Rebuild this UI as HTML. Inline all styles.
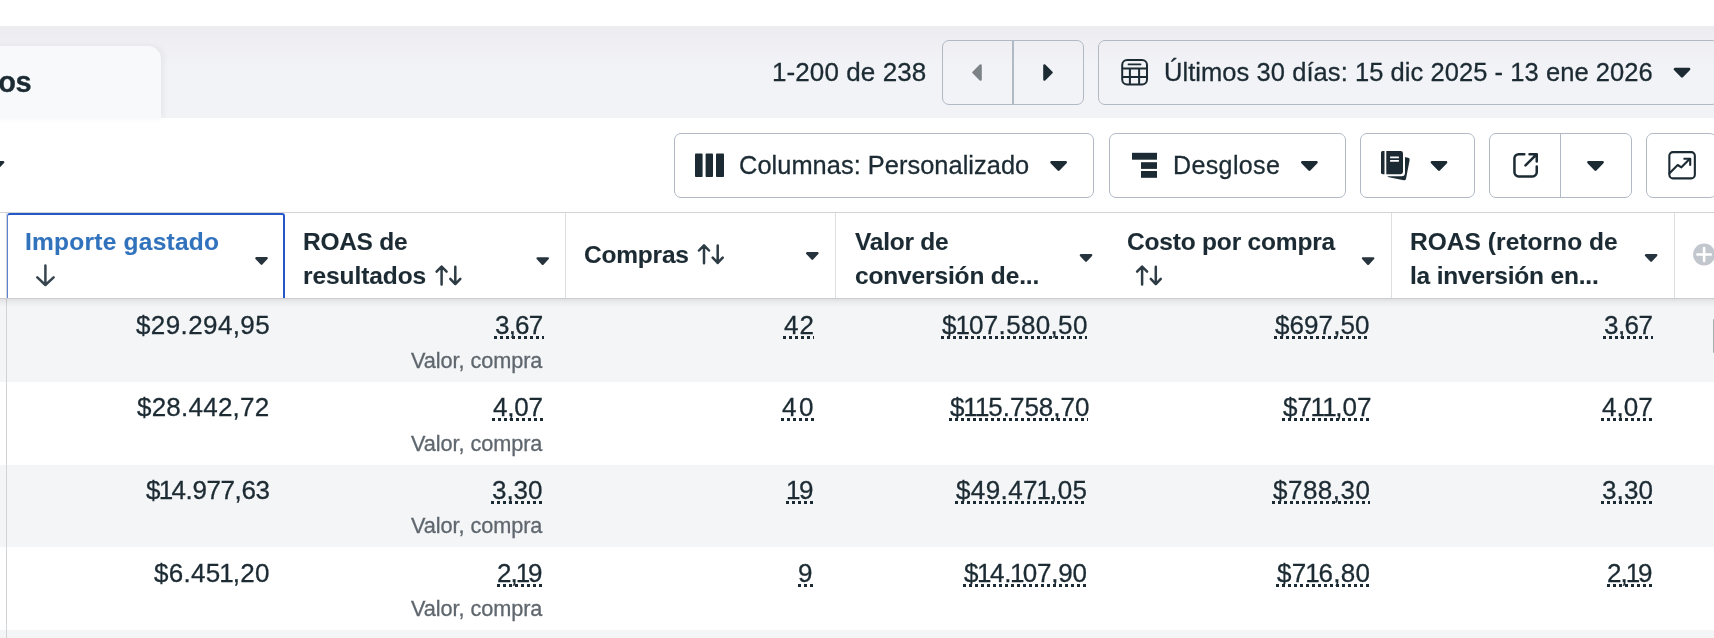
<!DOCTYPE html>
<html><head><meta charset="utf-8">
<style>
*{margin:0;padding:0;box-sizing:border-box}
html,body{width:1714px;height:638px;overflow:hidden;background:#fff}
body{position:relative;font-family:"Liberation Sans",sans-serif;color:#1c2b33}
.a{position:absolute;white-space:nowrap;line-height:1;will-change:transform;-webkit-text-stroke:0.3px currentColor}
.hd{-webkit-text-stroke:0.1px currentColor}
.band{position:absolute;left:0;top:26px;width:1714px;height:92px;background:linear-gradient(180deg,#edecf1 0%,#f0f0f4 25%,#f2f3f6 45%,#f2f3f6 100%)}
.tab{position:absolute;left:-20px;top:46px;width:181px;height:72px;background:#f8f9fb;border-top-right-radius:13px;box-shadow:3px 0 6px rgba(0,0,0,0.05)}
.btn{position:absolute;border:1px solid #b0b9c4;border-radius:7px}
.t26{font-size:26px}
.hd{font-size:24.5px;font-weight:700;margin-top:1px}
.val{font-size:26px}
.ul{position:absolute;height:3px;background:repeating-linear-gradient(90deg,#1c2b33 0 3px,transparent 3px 6px)}
.c1{letter-spacing:0.5px}
.sub{font-size:21.7px;color:#5f676e;margin-top:0.6px}
.row{position:absolute;left:0;width:1714px}
.g{background:#f4f5f7}
svg{position:absolute;overflow:visible}
</style></head><body>
<!-- top band -->
<div class="band"></div>
<div class="tab"></div>
<div class="a" style="right:1683px;top:67.5px;font-size:29px;font-weight:700;letter-spacing:-0.5px">cios</div>

<div class="a t26" style="left:772.1px;top:59.2px;letter-spacing:0.09px">1-200 de 238</div>

<!-- pagination -->
<div class="btn" style="left:942px;top:40px;width:142px;height:65px;"></div>
<div style="position:absolute;left:1011.5px;top:40px;width:2px;height:65px;background:#b0b9c4"></div>
<svg style="left:0;top:0" width="1714" height="638">
  <path d="M980.6 65.4 V79.6 L973.4 72.5Z" fill="#7c8287" stroke="#7c8287" stroke-width="2.4" stroke-linejoin="round"/>
  <path d="M1044.4 65.4 V79.6 L1051.6 72.5Z" fill="#1c2b33" stroke="#1c2b33" stroke-width="2.4" stroke-linejoin="round"/>
</svg>

<!-- date button -->
<div class="btn" style="left:1098px;top:40px;width:621px;height:65px;"></div>
<svg style="left:0;top:0" width="1714" height="638" fill="none" stroke="#1c2b33" stroke-width="2">
  <rect x="1122.2" y="60" width="24.8" height="24.6" rx="5"/>
  <path d="M1128.5 64.3 H1140.5" stroke-width="1.8" stroke-linecap="round"/>
  <path d="M1122.2 68.6 H1147 M1122.2 77.1 H1147 M1129.9 68.6 V84.6 M1139.1 68.6 V84.6"/>
</svg>
<div class="a" style="left:1163.6px;top:59.8px;font-size:25.5px;letter-spacing:0.06px">Últimos 30 días: 15 dic 2025 - 13 ene 2026</div>
<svg style="left:0;top:0" width="1714" height="638"></svg>

<!-- toolbar small caret at left edge -->
<svg style="left:0;top:0" width="1714" height="638"></svg>

<!-- Columnas -->
<div class="btn" style="left:674px;top:133px;width:420px;height:65px;"></div>
<svg style="left:0;top:0" width="1714" height="638" fill="#1c2b33">
  <rect x="695" y="153.6" width="7.6" height="23.4" rx="0.8"/>
  <rect x="705.6" y="153.6" width="7.4" height="23.4" rx="0.8"/>
  <rect x="716" y="153.6" width="8" height="23.4" rx="0.8"/>
</svg>
<div class="a" style="left:738.6px;top:152.5px;font-size:25.4px;letter-spacing:0.04px">Columnas: Personalizado</div>
<svg style="left:0;top:0" width="1714" height="638"></svg>

<!-- Desglose -->
<div class="btn" style="left:1109px;top:133px;width:237px;height:65px;"></div>
<svg style="left:0;top:0" width="1714" height="638" fill="#1c2b33">
  <rect x="1132" y="152.8" width="25" height="6.9"/>
  <rect x="1141" y="162.2" width="16" height="6.7"/>
  <rect x="1141" y="171" width="16" height="6.8"/>
</svg>
<div class="a" style="left:1173.4px;top:152.8px;font-size:25px;letter-spacing:0.38px">Desglose</div>
<svg style="left:0;top:0" width="1714" height="638"></svg>

<!-- reports -->
<div class="btn" style="left:1360px;top:133px;width:115px;height:65px;"></div>
<svg style="left:0;top:0" width="1714" height="638">
  <g transform="translate(1398.5 167.5) rotate(11)"><rect x="-9.5" y="-11.5" width="19" height="23" rx="2" fill="#1c2b33"/></g>
  <rect x="1379.2" y="149" width="25.8" height="27.2" rx="3.5" fill="#fff"/>
  <path d="M1384.5 151 H1382.6 Q1381 151 1381 152.6 V172.6 Q1381 174.2 1382.6 174.2 H1384.5Z" fill="#1c2b33"/>
  <path d="M1386.3 151 H1400.6 Q1403 151 1403 153.4 V171.8 Q1403 174.2 1400.6 174.2 H1386.3Z" fill="#1c2b33"/>
  
  
  <path d="M1390.1 157.3 H1398.9 M1390.1 160.9 H1398.9" stroke="#fff" stroke-width="1.8"/>
</svg>
<svg style="left:0;top:0" width="1714" height="638"></svg>

<!-- export -->
<div class="btn" style="left:1489px;top:133px;width:143px;height:65px;"></div>
<div style="position:absolute;left:1560px;top:133px;width:1px;height:65px;background:#b0b9c4"></div>
<svg style="left:0;top:0" width="1714" height="638" fill="none" stroke="#1c2b33" stroke-width="2.5" stroke-linecap="round" stroke-linejoin="round">
  <path d="M1524.3 154.15 H1518.7 A4.2 4.2 0 0 0 1514.45 158.4 V172.2 A4.2 4.2 0 0 0 1518.7 176.45 H1532.5 A4.2 4.2 0 0 0 1536.75 172.2 V166.5"/>
  <path d="M1529.5 154.15 H1536.75 V161.5 M1536.3 154.6 L1525.5 165.4"/>
</svg>
<svg style="left:0;top:0" width="1714" height="638"></svg>

<!-- chart -->
<div class="btn" style="left:1646px;top:133px;width:71px;height:65px;"></div>
<svg style="left:0;top:0" width="1714" height="638" fill="none" stroke="#1c2b33" stroke-width="2.1" stroke-linecap="round" stroke-linejoin="round">
  <rect x="1669.35" y="152.15" width="25.5" height="26.2" rx="3.6"/>
  <path d="M1669.5 173.2 L1677.7 165 L1681.4 167.3 L1689.6 159.1"/>
  <path d="M1684.3 158.7 H1690.2 V165"/>
</svg>

<!-- table header -->
<div style="position:absolute;left:0;top:212px;width:1714px;height:1px;background:#d3d3d5"></div>
<div style="position:absolute;z-index:5;left:0;top:298px;width:1714px;height:1px;background:#cdcdcf"></div>
<div style="position:absolute;z-index:5;left:0;top:299px;width:1714px;height:8px;background:linear-gradient(180deg,rgba(0,0,0,0.085),rgba(0,0,0,0.04) 40%,rgba(0,0,0,0))"></div>
<!-- column dividers -->
<div style="position:absolute;left:6px;top:213px;width:1px;height:425px;background:#d2d3d5"></div>
<div style="position:absolute;left:565px;top:213px;width:1px;height:85px;background:#dcdee1"></div>
<div style="position:absolute;left:835px;top:213px;width:1px;height:85px;background:#dcdee1"></div>
<div style="position:absolute;left:1391px;top:213px;width:1px;height:85px;background:#dcdee1"></div>
<div style="position:absolute;left:1674px;top:213px;width:1px;height:85px;background:#dcdee1"></div>
<!-- selected header -->
<div style="position:absolute;left:7px;top:213px;width:278px;height:85px;border:2px solid #2457c8;border-left:1px solid #5c84d6;border-bottom:none;border-radius:3px 3px 0 0;background:#fff"></div>

<div class="a hd" style="left:24.9px;top:229.3px;color:#3172bd;letter-spacing:0.24px">Importe gastado</div>
<svg style="left:0;top:0" width="1714" height="638" fill="none" stroke="#2d3b45" stroke-width="2.2" stroke-linecap="round" stroke-linejoin="round">
  <path d="M45.4 265.6 V284.5 M37.3 277.4 L45.4 285 L53.6 277.4" stroke-width="2.5" stroke="#36454f"/>
</svg>

<div class="a hd" style="left:303.4px;top:229.3px;letter-spacing:-0.28px">ROAS de</div>
<div class="a hd" style="left:303.4px;top:262.7px;letter-spacing:-0.08px">resultados</div>
<div class="a hd" style="left:583.7px;top:242.1px;letter-spacing:-0.21px">Compras</div>
<div class="a hd" style="left:855px;top:229.3px;letter-spacing:-0.24px">Valor de</div>
<div class="a hd" style="left:855px;top:262.7px;letter-spacing:-0.15px">conversión de...</div>
<div class="a hd" style="left:1126.8px;top:229.3px;letter-spacing:-0.19px">Costo por compra</div>
<div class="a hd" style="left:1410.4px;top:229.3px;letter-spacing:0.05px">ROAS (retorno de</div>
<div class="a hd" style="left:1410.4px;top:262.7px;letter-spacing:-0.19px">la inversión en...</div>

<svg style="left:0;top:0" width="1714" height="638" fill="none" stroke="#2d3b45" stroke-width="2.5" stroke-linecap="round" stroke-linejoin="round">
  <g id="ar" transform="translate(434 264.5)"><path d="M7.6 2.2 V20 M2.6 7.2 L7.6 2 L12.6 7.2 M21.3 2.3 V19.6 M16.3 14.4 L21.3 19.6 L26.3 14.4"/></g>
  <g transform="translate(696.4 243.3)"><path d="M7.6 2.2 V20 M2.6 7.2 L7.6 2 L12.6 7.2 M21.3 2.3 V19.6 M16.3 14.4 L21.3 19.6 L26.3 14.4"/></g>
  <g transform="translate(1134.5 264.5)"><path d="M7.6 2.2 V20 M2.6 7.2 L7.6 2 L12.6 7.2 M21.3 2.3 V19.6 M16.3 14.4 L21.3 19.6 L26.3 14.4"/></g>
</svg>
<!-- header carets -->
<svg style="left:0;top:0" width="1714" height="638" fill="#25333d">
  
  
  
  
  
  
</svg>
<!-- plus circle -->
<svg style="left:0;top:0" width="1714" height="638">
  <circle cx="1704.1" cy="254.5" r="11" fill="#c2c7ce"/>
  <path d="M1704.1 248 V261 M1697.4 254.5 H1710.8" stroke="#fff" stroke-width="2.6" stroke-linecap="round"/>
</svg>

<!-- rows -->
<div class="row g" style="top:299px;height:82.7px"></div>
<div class="row g" style="top:464.5px;height:82.8px"></div>
<div class="row g" style="top:630px;height:10px"></div>
<div style="position:absolute;left:6px;top:299px;width:1px;height:339px;background:#d2d3d5"></div>
<div style="position:absolute;left:1712.7px;top:318.7px;width:2px;height:34px;background:#a9abad;border-radius:1px"></div>

<!--ROWS-->
<div class="a val" style="left:135.9px;top:311.5px;letter-spacing:0.393px">$29.294,95</div>
<div class="a val u" style="left:495.3px;top:311.5px;letter-spacing:-0.815px">3,67</div>
<div class="ul" style="left:494.3px;width:49.7px;top:335.6px"></div>
<div class="a val u" style="left:783.8px;top:311.5px;letter-spacing:0.94px">42</div>
<div class="ul" style="left:782.8px;width:31.4px;top:335.6px"></div>
<div class="a val u" style="left:941.5px;top:311.5px"><span style="letter-spacing:-0.97px">$</span><span style="letter-spacing:-0.97px">1</span><span style="letter-spacing:0.33px">0</span><span style="letter-spacing:0.33px">7</span><span style="letter-spacing:0.33px">.</span><span style="letter-spacing:0.33px">5</span><span style="letter-spacing:0.33px">8</span><span style="letter-spacing:0.33px">0</span><span style="letter-spacing:0.33px">,</span><span style="letter-spacing:0.33px">5</span><span style="letter-spacing:0.33px">0</span></div>
<div class="ul" style="left:940.5px;width:146.8px;top:335.6px"></div>
<div class="a val u" style="left:1274.6px;top:311.5px;letter-spacing:0.079px">$697,50</div>
<div class="ul" style="left:1273.6px;width:96.0px;top:335.6px"></div>
<div class="a val u" style="left:1603.6px;top:311.5px;letter-spacing:-0.581px">3,67</div>
<div class="ul" style="left:1602.6px;width:50.4px;top:335.6px"></div>
<div class="a sub" style="left:411px;letter-spacing:-0.07px;top:349.3px">Valor, compra</div>
<div class="a val" style="left:137.4px;top:394.3px;letter-spacing:0.226px">$28.442,72</div>
<div class="a val u" style="left:493.3px;top:394.3px;letter-spacing:-0.181px">4,07</div>
<div class="ul" style="left:492.3px;width:51.6px;top:418.4px"></div>
<div class="a val u" style="left:782.2px;top:394.3px;letter-spacing:2.64px">40</div>
<div class="ul" style="left:781.2px;width:33.1px;top:418.4px"></div>
<div class="a val u" style="left:949.7px;top:394.3px"><span style="letter-spacing:-1.30px">$</span><span style="letter-spacing:-2.60px">1</span><span style="letter-spacing:-1.30px">1</span><span style="letter-spacing:0.00px">5</span><span style="letter-spacing:0.00px">.</span><span style="letter-spacing:0.00px">7</span><span style="letter-spacing:0.00px">5</span><span style="letter-spacing:0.00px">8</span><span style="letter-spacing:0.00px">,</span><span style="letter-spacing:0.00px">7</span><span style="letter-spacing:0.00px">0</span></div>
<div class="ul" style="left:948.7px;width:139.0px;top:418.4px"></div>
<div class="a val u" style="left:1283.1px;top:394.3px"><span style="letter-spacing:-0.08px">$</span><span style="letter-spacing:-1.38px">7</span><span style="letter-spacing:-2.68px">1</span><span style="letter-spacing:-1.38px">1</span><span style="letter-spacing:-0.08px">,</span><span style="letter-spacing:-0.08px">0</span><span style="letter-spacing:-0.08px">7</span></div>
<div class="ul" style="left:1282.1px;width:87.9px;top:418.4px"></div>
<div class="a val u" style="left:1601.9px;top:394.3px;letter-spacing:0.019px">4,07</div>
<div class="ul" style="left:1600.9px;width:52.2px;top:418.4px"></div>
<div class="a sub" style="left:411px;letter-spacing:-0.07px;top:432.1px">Valor, compra</div>
<div class="a val" style="left:145.7px;top:477.0px"><span style="letter-spacing:-1.71px">$</span><span style="letter-spacing:-1.71px">1</span><span style="letter-spacing:-0.41px">4</span><span style="letter-spacing:-0.41px">.</span><span style="letter-spacing:-0.41px">9</span><span style="letter-spacing:-0.41px">7</span><span style="letter-spacing:-0.41px">7</span><span style="letter-spacing:-0.41px">,</span><span style="letter-spacing:-0.41px">6</span><span style="letter-spacing:-0.41px">3</span></div>
<div class="a val u" style="left:492.3px;top:477.0px;letter-spacing:-0.048px">3,30</div>
<div class="ul" style="left:491.3px;width:52.0px;top:501.1px"></div>
<div class="a val u" style="left:786.3px;top:477.0px"><span style="letter-spacing:-1.46px">1</span><span style="letter-spacing:-0.16px">9</span></div>
<div class="ul" style="left:786.3px;width:28.0px;top:501.1px"></div>
<div class="a val u" style="left:955.7px;top:477.0px"><span style="letter-spacing:0.38px">$</span><span style="letter-spacing:0.38px">4</span><span style="letter-spacing:0.38px">9</span><span style="letter-spacing:0.38px">.</span><span style="letter-spacing:0.38px">4</span><span style="letter-spacing:-0.92px">7</span><span style="letter-spacing:-0.92px">1</span><span style="letter-spacing:0.38px">,</span><span style="letter-spacing:0.38px">0</span><span style="letter-spacing:0.38px">5</span></div>
<div class="ul" style="left:954.7px;width:132.5px;top:501.1px"></div>
<div class="a val u" style="left:1272.6px;top:477.0px;letter-spacing:0.479px">$788,30</div>
<div class="ul" style="left:1271.6px;width:98.4px;top:501.1px"></div>
<div class="a val u" style="left:1601.6px;top:477.0px;letter-spacing:0.119px">3,30</div>
<div class="ul" style="left:1600.6px;width:52.5px;top:501.1px"></div>
<div class="a sub" style="left:411px;letter-spacing:-0.07px;top:514.8px">Valor, compra</div>
<div class="a val" style="left:154.1px;top:559.8px"><span style="letter-spacing:0.30px">$</span><span style="letter-spacing:0.30px">6</span><span style="letter-spacing:0.30px">.</span><span style="letter-spacing:0.30px">4</span><span style="letter-spacing:-1.00px">5</span><span style="letter-spacing:-1.00px">1</span><span style="letter-spacing:0.30px">,</span><span style="letter-spacing:0.30px">2</span><span style="letter-spacing:0.30px">0</span></div>
<div class="a val u" style="left:497.4px;top:559.8px"><span style="letter-spacing:-0.88px">2</span><span style="letter-spacing:-2.18px">,</span><span style="letter-spacing:-2.18px">1</span><span style="letter-spacing:-0.88px">9</span></div>
<div class="ul" style="left:497.4px;width:45.9px;top:583.9px"></div>
<div class="a val u" style="left:798.0px;top:559.8px;letter-spacing:0px">9</div>
<div class="ul" style="left:798.0px;width:15.9px;top:583.9px"></div>
<div class="a val u" style="left:964.1px;top:559.8px"><span style="letter-spacing:-1.51px">$</span><span style="letter-spacing:-1.51px">1</span><span style="letter-spacing:-0.21px">4</span><span style="letter-spacing:-1.51px">.</span><span style="letter-spacing:-1.51px">1</span><span style="letter-spacing:-0.21px">0</span><span style="letter-spacing:-0.21px">7</span><span style="letter-spacing:-0.21px">,</span><span style="letter-spacing:-0.21px">9</span><span style="letter-spacing:-0.21px">0</span></div>
<div class="ul" style="left:963.1px;width:124.6px;top:583.9px"></div>
<div class="a val u" style="left:1276.5px;top:559.8px"><span style="letter-spacing:0.26px">$</span><span style="letter-spacing:-1.04px">7</span><span style="letter-spacing:-1.04px">1</span><span style="letter-spacing:0.26px">6</span><span style="letter-spacing:0.26px">,</span><span style="letter-spacing:0.26px">8</span><span style="letter-spacing:0.26px">0</span></div>
<div class="ul" style="left:1275.5px;width:94.5px;top:583.9px"></div>
<div class="a val u" style="left:1606.9px;top:559.8px"><span style="letter-spacing:-0.88px">2</span><span style="letter-spacing:-2.18px">,</span><span style="letter-spacing:-2.18px">1</span><span style="letter-spacing:-0.88px">9</span></div>
<div class="ul" style="left:1606.9px;width:45.9px;top:583.9px"></div>
<div class="a sub" style="left:411px;letter-spacing:-0.07px;top:597.6px">Valor, compra</div>
<!--/ROWS-->
<svg style="left:0;top:0;z-index:6" width="1714" height="638">
<path d="M1674.95 69.10 H1689.05 L1682.00 76.40Z" fill="#1c2b33" stroke="#1c2b33" stroke-width="2.6" stroke-linejoin="round"/>
<path d="M1051.55 162.30 H1065.65 L1058.60 169.60Z" fill="#1c2b33" stroke="#1c2b33" stroke-width="2.6" stroke-linejoin="round"/>
<path d="M1302.35 162.30 H1316.45 L1309.40 169.60Z" fill="#1c2b33" stroke="#1c2b33" stroke-width="2.6" stroke-linejoin="round"/>
<path d="M1431.95 162.30 H1446.05 L1439.00 169.60Z" fill="#1c2b33" stroke="#1c2b33" stroke-width="2.6" stroke-linejoin="round"/>
<path d="M1588.45 162.30 H1602.55 L1595.50 169.60Z" fill="#1c2b33" stroke="#1c2b33" stroke-width="2.6" stroke-linejoin="round"/>
<path d="M-11.05 162.20 H3.05 L-4.00 169.50Z" fill="#1c2b33" stroke="#1c2b33" stroke-width="2.6" stroke-linejoin="round"/>
<path d="M256.30 258.20 H266.70 L261.50 263.80Z" fill="#27343e" stroke="#27343e" stroke-width="2.2" stroke-linejoin="round"/>
<path d="M537.50 258.30 H547.90 L542.70 263.90Z" fill="#27343e" stroke="#27343e" stroke-width="2.2" stroke-linejoin="round"/>
<path d="M807.10 253.20 H817.50 L812.30 258.80Z" fill="#27343e" stroke="#27343e" stroke-width="2.2" stroke-linejoin="round"/>
<path d="M1080.80 255.20 H1091.20 L1086.00 260.80Z" fill="#27343e" stroke="#27343e" stroke-width="2.2" stroke-linejoin="round"/>
<path d="M1362.90 258.30 H1373.30 L1368.10 263.90Z" fill="#27343e" stroke="#27343e" stroke-width="2.2" stroke-linejoin="round"/>
<path d="M1645.90 255.20 H1656.30 L1651.10 260.80Z" fill="#27343e" stroke="#27343e" stroke-width="2.2" stroke-linejoin="round"/>
</svg>
</body></html>
